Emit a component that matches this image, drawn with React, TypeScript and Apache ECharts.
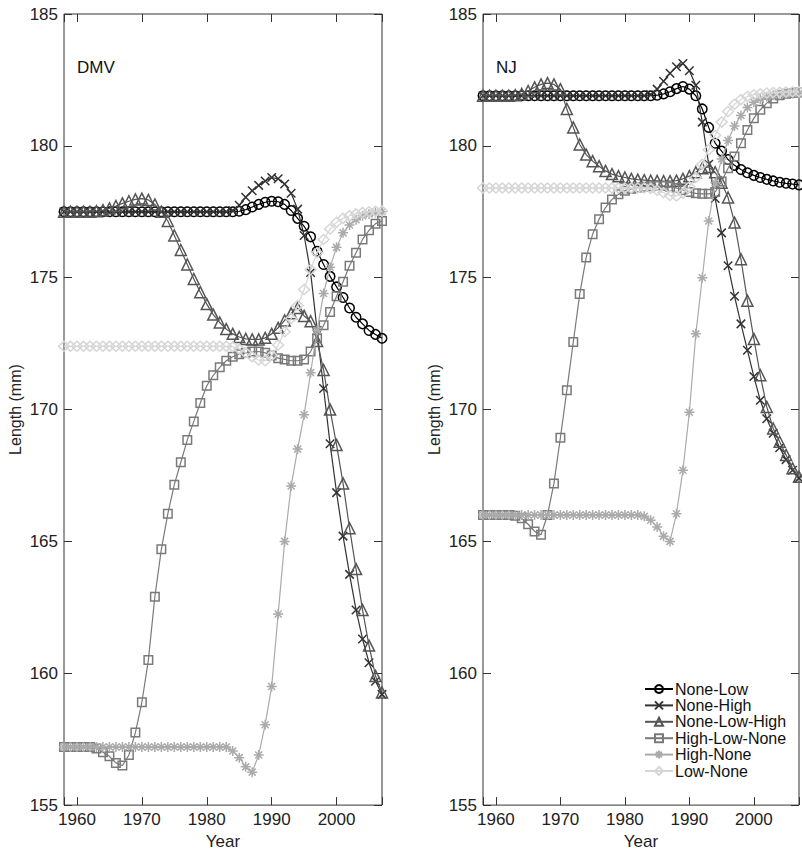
import React, { useEffect, useRef } from 'react';
import * as echarts from 'echarts';

const years = [
  1958, 1959, 1960, 1961, 1962, 1963, 1964, 1965, 1966, 1967,
  1968, 1969, 1970, 1971, 1972, 1973, 1974, 1975, 1976, 1977,
  1978, 1979, 1980, 1981, 1982, 1983, 1984, 1985, 1986, 1987,
  1988, 1989, 1990, 1991, 1992, 1993, 1994, 1995, 1996, 1997,
  1998, 1999, 2000, 2001, 2002, 2003, 2004, 2005, 2006, 2007,
];

// ---- DMV panel ----
const dmvNoneLow = [
  177.5, 177.5, 177.5, 177.5, 177.5, 177.5, 177.5, 177.5, 177.5, 177.5,
  177.5, 177.5, 177.5, 177.5, 177.5, 177.5, 177.5, 177.5, 177.5, 177.5,
  177.5, 177.5, 177.5, 177.5, 177.5, 177.5, 177.5, 177.52, 177.58, 177.68,
  177.78, 177.86, 177.9, 177.88, 177.78, 177.55, 177.25, 176.95, 176.55, 176.0,
  175.5, 175.05, 174.65, 174.25, 173.85, 173.5, 173.25, 173.0, 172.85, 172.7,
];
const dmvNoneHigh = [
  177.5, 177.5, 177.5, 177.5, 177.5, 177.5, 177.5, 177.5, 177.5, 177.5,
  177.5, 177.5, 177.5, 177.5, 177.5, 177.5, 177.5, 177.5, 177.5, 177.5,
  177.5, 177.5, 177.5, 177.5, 177.5, 177.5, 177.55, 177.75, 178.05, 178.3,
  178.5, 178.67, 178.8, 178.75, 178.55, 178.2, 177.6, 176.6, 175.2, 173.0,
  170.8, 168.7, 166.85, 165.2, 163.75, 162.4, 161.3, 160.4, 159.7, 159.2,
];
const dmvNoneLowHigh = [
  177.5, 177.5, 177.5, 177.5, 177.5, 177.52, 177.56, 177.63, 177.72, 177.82,
  177.9, 177.97, 178.0, 177.95, 177.78, 177.5, 177.15, 176.6, 176.05, 175.5,
  174.95, 174.45, 174.0, 173.6, 173.3, 173.05, 172.87, 172.75, 172.68, 172.66,
  172.66, 172.72, 172.87, 173.1, 173.38, 173.65, 173.85, 173.55, 173.35, 172.6,
  171.5, 170.0, 168.66, 167.2, 165.5, 163.95, 162.4, 161.05, 159.9, 159.27,
];
const dmvHighLowNone = [
  157.2, 157.2, 157.2, 157.2, 157.2, 157.15, 157.0, 156.85, 156.6, 156.5,
  156.9, 157.75, 158.9, 160.5, 162.9, 164.7, 166.05, 167.15, 168.0, 168.85,
  169.55, 170.25, 170.9, 171.3, 171.6, 171.85, 172.0, 172.1, 172.15, 172.2,
  172.2, 172.15, 172.05, 171.95, 171.9, 171.85, 171.85, 171.9, 172.2, 172.7,
  173.2, 173.7, 174.3, 174.85, 175.45, 175.95, 176.45, 176.8, 177.05, 177.15,
];
const dmvHighNone = [
  157.2, 157.2, 157.2, 157.2, 157.2, 157.2, 157.2, 157.2, 157.2, 157.2,
  157.2, 157.2, 157.2, 157.2, 157.2, 157.2, 157.2, 157.2, 157.2, 157.2,
  157.2, 157.2, 157.2, 157.2, 157.2, 157.2, 157.05, 156.8, 156.45, 156.25,
  156.9, 158.05, 159.5, 162.25, 165.0, 167.1, 168.5, 169.8, 171.4, 173.0,
  174.4, 175.4, 176.15, 176.7, 177.0, 177.2, 177.35, 177.42, 177.47, 177.5,
];
const dmvLowNone = [
  172.4, 172.4, 172.4, 172.4, 172.4, 172.4, 172.4, 172.4, 172.4, 172.4,
  172.4, 172.4, 172.4, 172.4, 172.4, 172.4, 172.4, 172.4, 172.4, 172.4,
  172.4, 172.4, 172.4, 172.4, 172.4, 172.4, 172.38, 172.3, 172.15, 172.0,
  171.88, 171.85, 172.05, 172.45, 172.95, 173.45, 173.95, 174.55, 175.3, 175.95,
  176.45, 176.85, 177.1, 177.25, 177.35, 177.42, 177.47, 177.5, 177.52, 177.53,
];

// ---- NJ panel ----
const njNoneLow = [
  181.9, 181.9, 181.9, 181.9, 181.9, 181.9, 181.9, 181.9, 181.9, 181.9,
  181.9, 181.9, 181.9, 181.9, 181.9, 181.9, 181.9, 181.9, 181.9, 181.9,
  181.9, 181.9, 181.9, 181.9, 181.9, 181.9, 181.9, 181.92, 181.97, 182.05,
  182.17, 182.25, 182.15, 181.9, 181.4, 180.7, 180.1, 179.8, 179.48, 179.26,
  179.1, 178.98, 178.88, 178.8, 178.73, 178.67, 178.62, 178.58, 178.55, 178.52,
];
const njNoneHigh = [
  181.9, 181.9, 181.9, 181.9, 181.9, 181.9, 181.9, 181.9, 181.9, 181.9,
  181.9, 181.9, 181.9, 181.9, 181.9, 181.9, 181.9, 181.9, 181.9, 181.9,
  181.9, 181.9, 181.9, 181.9, 181.9, 181.9, 181.95, 182.15, 182.45, 182.75,
  183.0, 183.12, 182.85, 182.3, 180.9, 179.3, 178.0, 176.7, 175.45, 174.3,
  173.25, 172.25, 171.25, 170.35, 169.65, 169.1, 168.55, 168.1, 167.7, 167.4,
];
const njNoneLowHigh = [
  181.9, 181.9, 181.9, 181.9, 181.9, 181.92, 181.97, 182.08, 182.22, 182.33,
  182.38, 182.33, 182.15, 181.4, 180.7, 180.05, 179.67, 179.42, 179.23, 179.05,
  178.93, 178.85, 178.8, 178.75, 178.72, 178.7, 178.68, 178.67, 178.66, 178.66,
  178.68, 178.75, 178.85, 179.0, 179.15, 179.2, 179.0, 178.6, 178.04, 177.09,
  175.7, 174.13, 172.68, 171.3, 170.1, 169.28, 168.78, 168.28, 167.77, 167.45,
];
const njHighLowNone = [
  166.0, 166.0, 166.0, 166.0, 166.0, 165.97, 165.88, 165.65, 165.38, 165.25,
  166.0, 167.2, 168.93, 170.73, 172.56, 174.38, 175.77, 176.65, 177.22, 177.66,
  177.97, 178.16, 178.3, 178.37, 178.42, 178.45, 178.47, 178.48, 178.48, 178.45,
  178.4, 178.33, 178.25, 178.2, 178.18, 178.18, 178.25, 178.65, 179.15, 179.6,
  180.1, 180.6, 181.05, 181.37, 181.62, 181.8, 181.92, 181.98, 182.0, 182.02,
];
const njHighNone = [
  166.0, 166.0, 166.0, 166.0, 166.0, 166.0, 166.0, 166.0, 166.0, 166.0,
  166.0, 166.0, 166.0, 166.0, 166.0, 166.0, 166.0, 166.0, 166.0, 166.0,
  166.0, 166.0, 166.0, 166.0, 166.0, 165.95, 165.8, 165.55, 165.2, 165.0,
  166.05, 167.7, 169.9, 172.87, 175.0, 177.15, 178.6, 179.5, 180.2, 180.75,
  181.15, 181.45, 181.65, 181.78, 181.86, 181.92, 181.95, 181.97, 181.98, 181.99,
];
const njLowNone = [
  178.4, 178.4, 178.4, 178.4, 178.4, 178.4, 178.4, 178.4, 178.4, 178.4,
  178.4, 178.4, 178.4, 178.4, 178.4, 178.4, 178.4, 178.4, 178.4, 178.4,
  178.4, 178.4, 178.4, 178.4, 178.4, 178.4, 178.38, 178.32, 178.22, 178.12,
  178.1, 178.2, 178.45, 178.8, 179.3, 179.85, 180.4, 180.9, 181.3, 181.58,
  181.76, 181.87, 181.94, 181.98, 182.0, 182.02, 182.03, 182.04, 182.05, 182.05,
];

const seriesNames = ['None-Low', 'None-High', 'None-Low-High', 'High-Low-None', 'High-None', 'Low-None'];
const seriesColors = ['#000000', '#333333', '#555555', '#7a7a7a', '#ababab', '#d6d6d6'];
const X_PATH = 'path://M0,0L10,10M10,0L0,10';
const STAR_PATH = 'path://M5,0L5,10M0,5L10,5M1.5,1.5L8.5,8.5M8.5,1.5L1.5,8.5';
const seriesSymbols = ['circle', X_PATH, 'triangle', 'rect', STAR_PATH, 'diamond'];
const symbolSizes: any[] = [9.5, 8.5, 11, 8.5, 10, [11, 10]];

const panelLabels = ['DMV', 'NJ'];
const dmvData = [dmvNoneLow, dmvNoneHigh, dmvNoneLowHigh, dmvHighLowNone, dmvHighNone, dmvLowNone];
const njData = [njNoneLow, njNoneHigh, njNoneLowHigh, njHighLowNone, njHighNone, njLowNone];

const FONT = '"Liberation Sans", Arial, Helvetica, sans-serif';
const AXIS_COLOR = '#333';

export default function App() {
  const ref = useRef<HTMLDivElement>(null);

  useEffect(() => {
    if (!ref.current) return;
    const chart = echarts.init(ref.current, undefined, { renderer: 'svg' });

    const grids = [
      { left: 64, top: 14, width: 318, height: 794 },
      { left: 483, top: 14, width: 318, height: 794 },
    ];

    const xAxes: any[] = [];
    const yAxes: any[] = [];
    grids.forEach((_, gi) => {
      const tick = { show: true, inside: true, length: 8, lineStyle: { color: AXIS_COLOR, width: 1 } };
      xAxes.push({
        gridIndex: gi,
        type: 'value',
        min: 1958,
        max: 2007,
        splitNumber: 5,
        position: 'bottom',
        axisLine: { show: false },
        axisTick: tick,
        splitLine: { show: false },
        axisLabel: {
          fontSize: 17,
          fontFamily: FONT,
          color: '#222',
          margin: 6,
          formatter: (v: number) => (v % 10 === 0 ? String(v) : ''),
        },
        name: 'Year',
        nameLocation: 'middle',
        nameGap: 25,
        nameTextStyle: { fontSize: 17, fontFamily: FONT, color: '#222' },
      });
      xAxes.push({
        gridIndex: gi,
        type: 'value',
        min: 1958,
        max: 2007,
        splitNumber: 5,
        position: 'top',
        axisLine: { show: false },
        axisTick: tick,
        splitLine: { show: false },
        axisLabel: { show: false },
      });
      yAxes.push({
        gridIndex: gi,
        type: 'value',
        min: 155,
        max: 185,
        interval: 5,
        position: 'left',
        axisLine: { show: false },
        axisTick: tick,
        splitLine: { show: false },
        axisLabel: { fontSize: 17, fontFamily: FONT, color: '#222', margin: 6 },
        name: 'Length (mm)',
        nameLocation: 'middle',
        nameRotate: 90,
        nameGap: 41,
        nameTextStyle: { fontSize: 16, fontFamily: FONT, color: '#222' },
      });
      yAxes.push({
        gridIndex: gi,
        type: 'value',
        min: 155,
        max: 185,
        interval: 5,
        position: 'right',
        axisLine: { show: false },
        axisTick: tick,
        splitLine: { show: false },
        axisLabel: { show: false },
      });
    });

    const series: any[] = [];
    [dmvData, njData].forEach((panel, pi) => {
      panel.forEach((vals, si) => {
        series.push({
          type: 'line',
          name: seriesNames[si],
          xAxisIndex: pi * 2,
          yAxisIndex: pi * 2,
          data: years.map((y, i) => [y, vals[i]]),
          symbol: seriesSymbols[si],
          symbolSize: symbolSizes[si],
          showSymbol: true,
          showAllSymbol: true,
          lineStyle: { color: seriesColors[si], width: 1.2 },
          itemStyle: { color: 'none', borderColor: seriesColors[si], borderWidth: 1.5 },
          emphasis: { disabled: true },
          z: 2 + si,
        });
      });
    });

    chart.setOption({
      animation: false,
      backgroundColor: '#fff',
      grid: grids.map((g) => ({
        ...g,
        show: true,
        borderColor: AXIS_COLOR,
        borderWidth: 1,
        backgroundColor: 'transparent',
        containLabel: false,
      })),
      xAxis: xAxes,
      yAxis: yAxes,
      legend: {
        orient: 'vertical',
        left: 639,
        top: 676,
        itemWidth: 28,
        itemHeight: 10,
        itemGap: 0.4,
        data: seriesNames,
        selectedMode: false,
        textStyle: { fontSize: 16, fontFamily: FONT, color: '#111', padding: [0, 0, 0, -3] },
      },
      graphic: [
        { type: 'text', left: 77, top: 59, style: { text: panelLabels[0], font: `17px ${FONT}`, fill: '#111' } },
        { type: 'text', left: 496, top: 59, style: { text: panelLabels[1], font: `17px ${FONT}`, fill: '#111' } },
      ],
      series,
    });

    return () => chart.dispose();
  }, []);

  return (
    <div
      ref={ref}
      style={{ position: 'absolute', left: 0, top: 0, width: 802, height: 855 }}
    />
  );
}
